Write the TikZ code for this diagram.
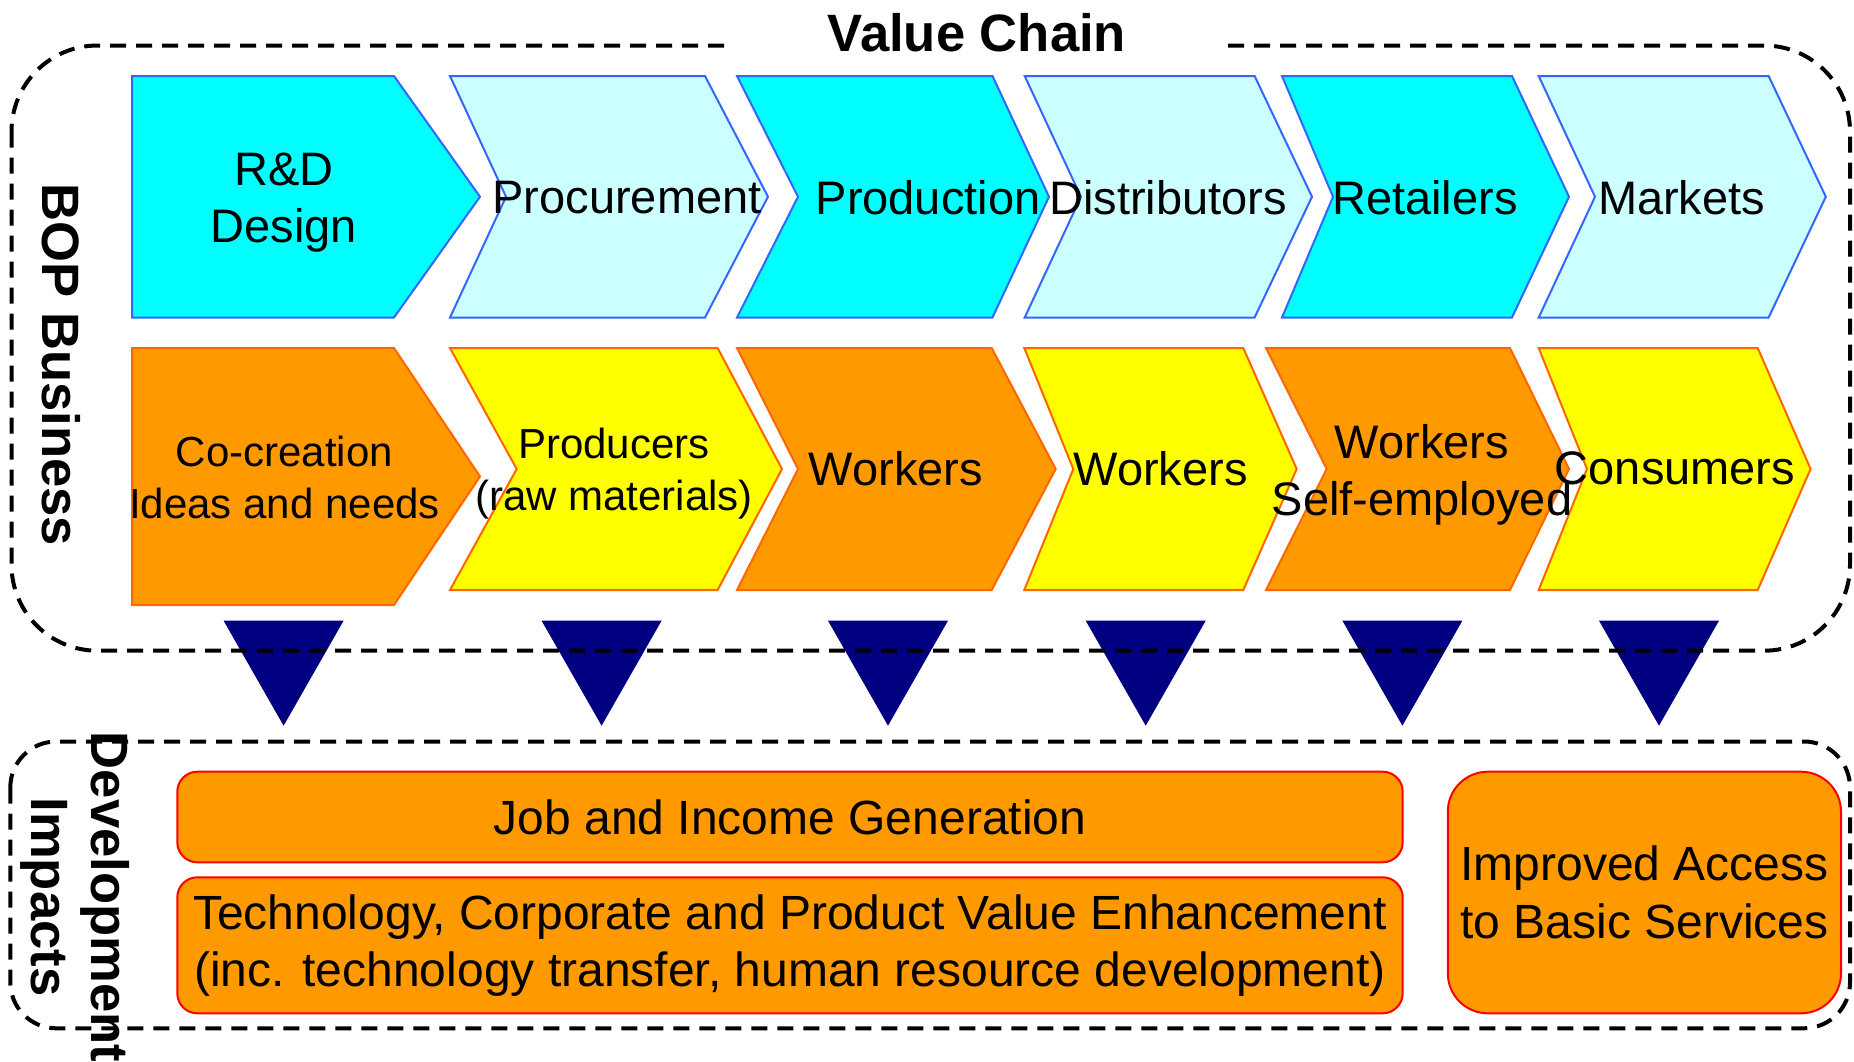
\documentclass[tikz,border=0pt]{standalone}
\usepackage{fontspec}
\setmainfont{Liberation Sans}
\usepackage{tikz}
\usetikzlibrary{calc}
\definecolor{vccyan}{RGB}{0,255,255}
\definecolor{vcpale}{RGB}{204,255,255}
\definecolor{vcedge}{RGB}{51,102,255}
\definecolor{boporange}{RGB}{255,153,0}
\definecolor{bopyellow}{RGB}{255,255,0}
\definecolor{bopedge}{RGB}{255,102,0}
\definecolor{dropnavy}{RGB}{0,0,128}
\tikzset{
   vcdark/.style={fill=vccyan, draw=vcedge, line width=1pt},
   vclight/.style={fill=vcpale, draw=vcedge, line width=1pt},
   bopdark/.style={fill=boporange, draw=bopedge, line width=1pt},
   boplight/.style={fill=bopyellow, draw=bopedge, line width=1pt},
   drop/.style={fill=dropnavy, draw=none},
   zone/.style={draw=black, line width=2pt, dash pattern=on 8pt off 5pt},
   lbl/.style={inner sep=0pt, align=center, font=\fontsize{23.5}{28.5}\selectfont},
   lblsmall/.style={inner sep=0pt, align=center, font=\fontsize{21}{25.7}\selectfont},
   heading/.style={inner sep=0pt, align=center, font=\bfseries\fontsize{26.3}{30}\selectfont},
   impact/.style={inner sep=0pt, align=center, font=\fontsize{24}{28.7}\selectfont,
      fill=boporange, draw=red, line width=1pt},
    }
\begin{document}
\begin{tikzpicture}[x=0.5pt, y=-0.5pt]
            \useasboundingbox (0,0) rectangle (1854,1061);
            % value chain row
            \draw[vcdark](132,76)--(394,76)--(480,196.75)--(394,317.5)--(132,317.5)--cycle;
            \draw[vclight](450,76)--(705,76)--(768,196.75)--(705,317.5)--(450,317.5)--(506,196.75)--cycle;
            \draw[vcdark](737,76)--(992.5,76)--(1049,196.75)--(992.5,317.5)--(737,317.5)--(798,196.75)--cycle;
            \draw[vclight](1024.7,76)--(1254.6,76)--(1312,196.75)--(1254.6,317.5)--(1024.7,317.5)--(1081,196.75)--cycle;
            \draw[vcdark](1282,76)--(1512,76)--(1569,196.75)--(1512,317.5)--(1282,317.5)--(1333,196.75)--cycle;
            \draw[vclight](1538.7,76)--(1768.6,76)--(1825.8,196.75)--(1768.6,317.5)--(1538.7,317.5)--(1595,196.75)--cycle;
            % bop row
            \draw[bopdark](132,348)--(394,348)--(480,476.5)--(394,605)--(132,605)--cycle;
            \draw[boplight](450,348)--(717.6,348)--(782,469)--(717.6,590)--(450,590)--(516.7,469)--cycle;
            \draw[bopdark](737,348)--(991.7,348)--(1055.7,469)--(991.7,590)--(737,590)--(798,469)--cycle;
            \draw[boplight](1024.3,348)--(1243.3,348)--(1296.7,469)--(1243.3,590)--(1024.3,590)--(1073.3,469)--cycle;
            \draw[bopdark](1266,348)--(1510,348)--(1569,469)--(1510,590)--(1266,590)--(1326.7,469)--cycle;
            \draw[boplight](1538.7,348)--(1757.7,348)--(1810.6,469)--(1757.7,590)--(1538.7,590)--(1587,469)--cycle;
            \foreach \cx in {283.6,601.6,888,1145.7,1402.4,1659}
                \draw[drop](\cx-60,620.7)--(\cx+60,620.7)--(\cx,725.7)--cycle;
            \draw[zone, rounded corners=43pt](11.5,45.5) rectangle (1850,650.7);
            \draw[zone, rounded corners=23pt](10.3,741.5) rectangle (1850,1028.3);
            \node[heading, fill=white, minimum width=246.5pt, inner ysep=4pt] (title) at (977,32.3) {Value Chain};
            \node[heading, rotate=-90] (bop) at (61,364.8) {BOP Business};
            \node[heading, rotate=-90] (dev) at (75.5,897) {Development\\Impacts};

            \node[lbl] (rd) at (284,203) {R\&D\\Design};
            \node[lbl] (proc) at (627,198) {Procurement};
            \node[lbl] (prod) at (928,198) {Production};
            \node[lbl] (dist) at (1168,198) {Distributors};
            \node[lbl] (ret) at (1425,198) {Retailers};
            \node[lbl] (mkt) at (1681.6,198) {Markets};
            \node[lblsmall] (cocr) at (284.5,477.5) {Co-creation\\Ideas and needs};
            \node[lblsmall] (raw) at (614,473.5) {Producers\\(raw materials)};
            \node[lbl] (wka) at (896,469) {Workers};
            \node[lbl] (wkb) at (1160.6,469) {Workers};
            \node[lbl] (wkc) at (1422,474.5) {Workers\\Self-employed};
            \node[lbl] (cons) at (1675,468) {Consumers};

            \node[impact, rounded corners=10pt, minimum width=612.7pt, minimum height=45.3pt] (job) at (790,817) {Job and Income Generation};
            \node[impact, rounded corners=10pt, minimum width=612.7pt, minimum height=68pt] (tech) at (790,945.3)
                {Technology, Corporate and Product Value Enhancement\\(inc. technology transfer, human resource development)};
            \node[impact, rounded corners=20pt, minimum width=196.6pt, minimum height=120.8pt] (access) at (1644.4,892.5)
                {Improved Access\\to Basic Services};
        \end{tikzpicture}
\end{document}
